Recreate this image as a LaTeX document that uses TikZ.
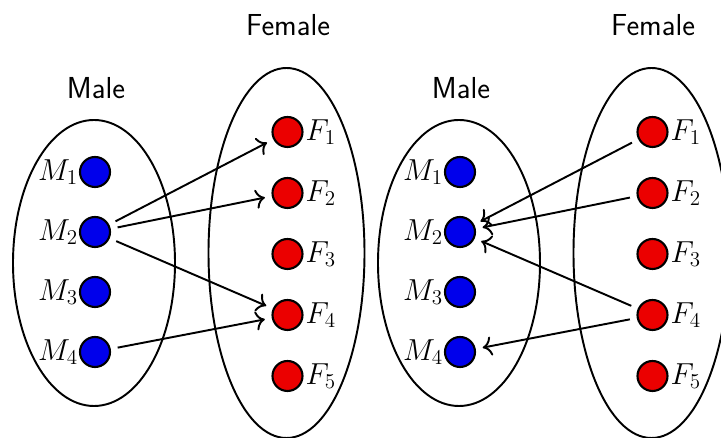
\documentclass[tikz,border=0pt]{standalone}
\usepackage{tikz}
\usetikzlibrary{arrows.meta, shapes.geometric}
\definecolor{maleblue}{RGB}{0,0,235}
\definecolor{femred}{RGB}{235,0,0}

\tikzset{
  person/.style={circle, draw=black, line width=1.2pt, minimum size=0.6cm, inner sep=0pt},
  male/.style={person, fill=maleblue, label={[inner sep=0.3pt, font=\LARGE]left:#1}},
  female/.style={person, fill=femred, label={[inner sep=1pt, font=\LARGE]right:#1}},
  group/.style={ellipse, draw, line width=1.1pt, inner sep=0pt},
  pair/.style={line width=1.1pt, -{To[scale=1.3]}, shorten <=4pt, shorten >=4pt},
  setname/.style={font=\LARGE\sffamily}
}

\begin{document}
\begin{tikzpicture}
  \clip (0,0) rectangle (14.42,-8.76);
  % Both panels: sets and members
  \foreach \s/\dx in {l/0, r/7.3} {
    \node[group, minimum width=3.24cm, minimum height=5.72cm] (\s men) at (1.88+\dx,-5.26) {};
    \node[group, minimum width=3.12cm, minimum height=7.4cm] (\s women) at (5.73+\dx,-5.06) {};
    \node[setname] (\s mname) at (1.92+\dx,-1.76) {Male};
    \node[setname] (\s fname) at (5.76+\dx,-0.5) {Female};
    \foreach \i in {1,...,4}
      \node[male=$M_\i$] (\s m\i) at (1.9+\dx,{-3.44-1.2*(\i-1)}) {};
    \foreach \i in {1,...,5}
      \node[female=$F_\i$] (\s f\i) at (5.75+\dx,{-2.64-1.22*(\i-1)}) {};
  }
  % Left: men propose
  \draw[pair] (lm2) -- (lf1);
  \draw[pair] (lm2) -- (lf2);
  \draw[pair] (lm2) -- (lf4);
  \draw[pair] (lm4) -- (lf4);
  % Right: women propose
  \draw[pair] (rf1) -- (rm2);
  \draw[pair] (rf2) -- (rm2);
  \draw[pair] (rf4) -- (rm2);
  \draw[pair] (rf4) -- (rm4);
\end{tikzpicture}
\end{document}
